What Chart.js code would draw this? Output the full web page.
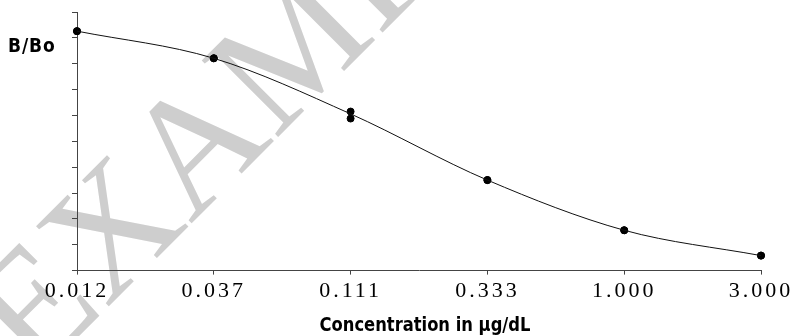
<!DOCTYPE html>
<html>
<head>
<meta charset="utf-8">
<script src="https://cdn.jsdelivr.net/npm/chart.js@4.4.1/dist/chart.umd.min.js"></script>
<style>
  html, body { margin: 0; padding: 0; background: #fff; }
  #wrap { width: 793px; height: 336px; position: relative; }
</style>
</head>
<body>
<div id="wrap"><canvas id="curve"></canvas></div>
<script>
// concentrations (µg/dL), evenly spaced on a log axis
const concLabels = ['0.012', '0.037', '0.111', '0.333', '1.000', '3.000'];
// replicate B/Bo readings
const rep1 = [0.926, 0.821, 0.615, 0.350, 0.156, 0.058];
const rep2 = [0.926, 0.821, 0.588, 0.350, 0.156, 0.058];
// fitted curve read at each concentration
const fitCurve = [0.926, 0.821, 0.606, 0.350, 0.156, 0.058];

const yTitle = 'B/Bo';
const xTitle = 'Concentration in \u03bcg/dL';
const stamp = 'EXAMPLE';

// condensed bold text, squeezed horizontally
function squeezed(ctx, text, x, y, sx, align) {
  ctx.save();
  ctx.translate(x, y);
  ctx.scale(sx, 1);
  ctx.textAlign = align;
  ctx.fillText(text, 0, 0);
  ctx.restore();
}

const decor = {
  id: 'decor',
  beforeDraw(chart) {
    const ctx = chart.ctx;
    ctx.save();
    ctx.fillStyle = '#cecece';
    ctx.font = '165px "Liberation Serif", "Times New Roman", serif';
    ctx.textBaseline = 'alphabetic';
    ctx.translate(35, 380);
    ctx.rotate(-45 * Math.PI / 180);
    ctx.fillText(stamp, 0, 0);
    ctx.restore();
    // wide spacing for the serif tick labels
    ctx.letterSpacing = '3px';
  },
  afterDraw(chart) {
    const ctx = chart.ctx;
    ctx.letterSpacing = '0px';
    ctx.save();
    ctx.fillStyle = '#000';
    ctx.textBaseline = 'alphabetic';
    ctx.font = 'bold 19px "DejaVu Sans", sans-serif';
    ctx.letterSpacing = '1px';
    squeezed(ctx, yTitle, 8, 52, 0.9, 'left');
    ctx.letterSpacing = '0px';
    squeezed(ctx, xTitle, 425, 331, 0.86, 'center');
    ctx.restore();
  }
};

new Chart(document.getElementById('curve'), {
  type: 'line',
  data: {
    labels: concLabels,
    datasets: [
      {
        data: fitCurve,
        borderColor: '#111',
        borderWidth: 1,
        pointRadius: 0,
        cubicInterpolationMode: 'monotone',
        clip: false
      },
      {
        data: rep1,
        showLine: false,
        pointRadius: 3.5,
        pointBackgroundColor: '#000',
        pointBorderColor: '#000',
        clip: false
      },
      {
        data: rep2,
        showLine: false,
        pointRadius: 3.5,
        pointBackgroundColor: '#000',
        pointBorderColor: '#000',
        clip: false
      }
    ]
  },
  options: {
    responsive: true,
    maintainAspectRatio: false,
    animation: false,
    layout: { padding: { left: 72, right: 32, top: 12, bottom: 29 } },
    plugins: { legend: { display: false }, tooltip: { enabled: false } },
    scales: {
      x: {
        offset: false,
        border: { color: '#444', width: 1 },
        grid: { drawOnChartArea: false, tickLength: 4, color: '#444' },
        ticks: {
          color: '#000',
          padding: 3,
          maxRotation: 0,
          autoSkip: false,
          font: { family: '"Liberation Serif", "Times New Roman", serif', size: 22 }
        }
      },
      y: {
        min: 0,
        max: 1,
        border: { color: '#444', width: 1 },
        grid: { drawOnChartArea: false, tickLength: 5, color: '#444' },
        ticks: { display: false, stepSize: 0.1 }
      }
    }
  },
  plugins: [decor]
});
</script>
</body>
</html>
